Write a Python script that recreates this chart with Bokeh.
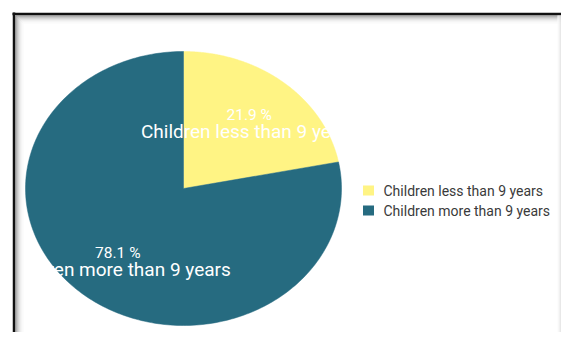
import numpy as np
from bokeh.plotting import figure
from bokeh.models import Range1d
from bokeh.embed import file_html
from bokeh.resources import INLINE
from bokeh.core.properties import value

# ---- data ----
labels = ["Children less than 9 years", "Children more than 9 years"]
values = [21.9, 78.1]
colors = ["#fff484", "#266b80"]

# ---- layout (pixel coordinates) ----
W, H = 561, 332
cx, cy, rx, ry = 183, 188, 158, 137

p = figure(width=W, height=H, x_range=Range1d(0, W), y_range=Range1d(H, 0),
           output_backend="svg", toolbar_location=None, min_border=0,
           x_axis_location=None, y_axis_location=None)
p.grid.visible = False
p.outline_line_color = None
p.background_fill_color = "white"
p.border_fill_color = "white"

# pie slices (ellipse, start at top, clockwise)
total = float(sum(values))
xs, ys, mids = [], [], []
a = np.pi / 2
for v in values:
    sweep = 2 * np.pi * v / total
    th = np.linspace(a, a - sweep, 240)
    xs.append([cx] + list(cx + rx * np.cos(th)))
    ys.append([cy] + list(cy - ry * np.sin(th)))
    mids.append(a - sweep / 2)
    a -= sweep
p.patches(xs=xs, ys=ys, fill_color=colors, line_color=colors, line_width=0.5)

# slice labels
mids = np.array(mids)
lx = cx + 0.655 * rx * np.cos(mids)
ly = cy - 0.655 * ry * np.sin(mids)
pct = [f"{v:.1f} %" for v in values]
p.text(x=lx, y=ly - 4.5, text=pct, text_align="center", text_baseline="middle",
       text_font=value("Roboto"), text_font_size="15.5px", text_color="white")
p.text(x=lx, y=ly + 12, text=labels, text_align="center", text_baseline="middle",
       text_font=value("Roboto"), text_font_size="19px", text_color="white")

# legend
leg_y = [190 + 20 * i for i in range(len(labels))]
p.rect(x=[368] * len(labels), y=leg_y, width=11, height=10, fill_color=colors, line_color=None)
p.text(x=[383] * len(labels), y=leg_y, text=labels, text_align="left", text_baseline="middle",
       text_font=value("Roboto"), text_font_size="14px", text_color="#3a3a3a")

# frame (drawn on top): page white outside, inner shadow gradient + black edge
p.quad(left=[0], right=[12], top=[0], bottom=[H], fill_color="white", line_color=None)
grays = ["#8a8a8a", "#a4a4a4", "#bcbcbc", "#d0d0d0", "#e0e0e0", "#ececec", "#f4f4f4", "#fafafa"]
for i, g in enumerate(grays):
    off = 15.5 + i
    p.segment(x0=[off, off], y0=[off, off], x1=[W, off], y1=[off, H], line_color=g, line_width=1)
p.segment(x0=[12, 13.5], y0=[13.5, 12], x1=[W, 13.5], y1=[13.5, H], line_color="#111111", line_width=2.5)
for i, g in enumerate(["#fbfbfb", "#f3f3f3", "#e8e8e8", "#dcdcdc"]):
    p.segment(x0=[W - 3.5 + i], y0=[15], x1=[W - 3.5 + i], y1=[H], line_color=g, line_width=1)

open("out.html", "w").write(file_html(p, INLINE))
